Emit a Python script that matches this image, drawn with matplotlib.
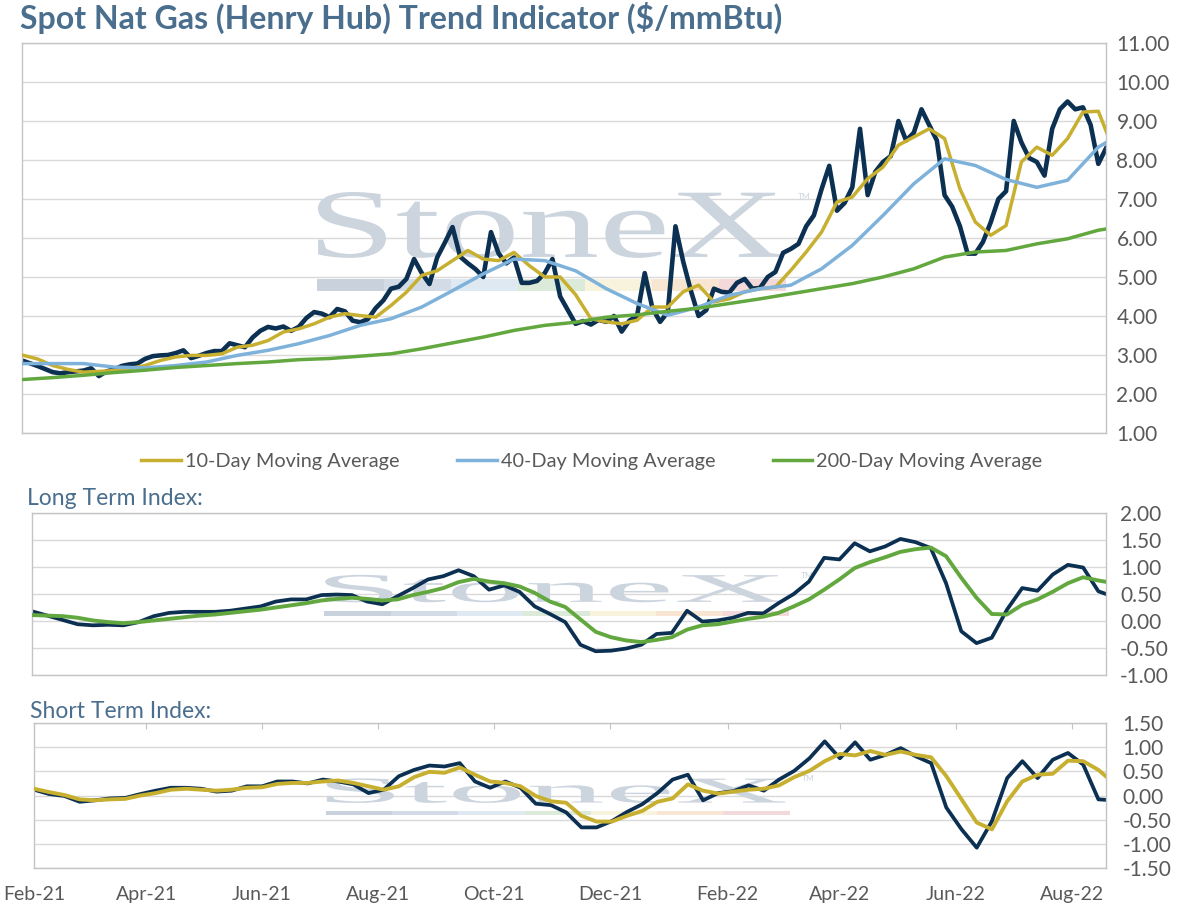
import matplotlib
matplotlib.use("Agg")
import matplotlib.pyplot as plt
import matplotlib.dates as mdates
import matplotlib.transforms as mtransforms
from matplotlib.textpath import TextPath
from matplotlib.patches import PathPatch, Rectangle
from matplotlib.font_manager import FontProperties
from matplotlib.ticker import FormatStrFormatter, MultipleLocator
import pandas as pd

plt.rcParams['font.family'] = ['Lato', 'DejaVu Sans']

start = "2021-02-01"
end = pd.Timestamp(start) + pd.Timedelta(days=564)

# spot price, one reading every 4 days
spot = [2.86, 2.79, 2.72, 2.64, 2.56, 2.53, 2.56, 2.58, 2.60, 2.66,
        2.46, 2.58, 2.63, 2.72, 2.76, 2.78, 2.90, 2.97, 2.99, 3.00,
        3.05, 3.12, 2.92, 2.98, 3.05, 3.10, 3.10, 3.30, 3.25, 3.20,
        3.45, 3.62, 3.72, 3.68, 3.73, 3.62, 3.72, 3.95, 4.10, 4.06,
        3.97, 4.18, 4.12, 3.88, 3.84, 3.92, 4.20, 4.40, 4.70, 4.75,
        4.95, 5.46, 5.10, 4.82, 5.50, 5.88, 6.28, 5.52, 5.35, 5.20,
        5.00, 6.15, 5.60, 5.35, 5.50, 4.85, 4.85, 4.90, 5.10, 5.46,
        4.50, 4.15, 3.80, 3.87, 3.78, 3.90, 3.85, 4.00, 3.60, 3.88,
        4.00, 5.10, 4.20, 3.85, 4.10, 6.30, 5.40, 4.65, 4.00, 4.15,
        4.70, 4.62, 4.60, 4.85, 4.95, 4.70, 4.72, 5.00, 5.13, 5.62,
        5.72, 5.85, 6.30, 6.58, 7.25, 7.85, 6.70, 6.90, 7.30, 8.80,
        7.10, 7.70, 7.95, 8.10, 9.00, 8.50, 8.70, 9.30, 8.90, 8.50,
        7.10, 6.80, 6.30, 5.60, 5.60, 5.90, 6.40, 7.00, 7.20, 9.00,
        8.45, 8.05, 7.95, 7.60, 8.80, 9.30, 9.50, 9.30, 9.35, 8.90,
        7.90, 8.30]
spot_dates = pd.date_range(start, periods=len(spot), freq="4D")

# 10-day moving average, every 8 days
ma10 = [3.00, 2.90, 2.73, 2.63, 2.56, 2.58, 2.60, 2.65, 2.73, 2.86,
        2.95, 2.99, 2.99, 3.03, 3.20, 3.25, 3.37, 3.59, 3.67, 3.80,
        3.97, 4.06, 4.01, 3.97, 4.27, 4.61, 5.04, 5.16, 5.42, 5.68,
        5.46, 5.42, 5.63, 5.29, 5.00, 5.00, 4.55, 3.93, 3.85, 3.80,
        3.89, 4.23, 4.23, 4.62, 4.79, 4.36, 4.44, 4.62, 4.70, 4.74,
        5.17, 5.64, 6.15, 6.92, 7.05, 7.52, 7.82, 8.38, 8.59, 8.80,
        8.55, 7.26, 6.41, 6.07, 6.32, 7.95, 8.33, 8.12, 8.55, 9.23,
        9.25, 8.25]
ma10_dates = pd.date_range(start, periods=len(ma10), freq="8D")

# 40-day and 200-day moving averages, every 16 days
ma40 = [2.78, 2.78, 2.78, 2.69, 2.67, 2.73, 2.82, 2.99, 3.12, 3.29,
        3.50, 3.76, 3.93, 4.23, 4.65, 5.08, 5.46, 5.42, 5.16, 4.70,
        4.32, 4.02, 4.23, 4.53, 4.70, 4.79, 5.21, 5.81, 6.58, 7.39,
        8.03, 7.86, 7.50, 7.30, 7.48, 8.33, 8.80]
ma200 = [2.37, 2.42, 2.48, 2.55, 2.61, 2.68, 2.73, 2.78, 2.82, 2.88,
         2.91, 2.97, 3.03, 3.16, 3.31, 3.46, 3.63, 3.76, 3.84, 3.97,
         4.03, 4.12, 4.20, 4.32, 4.44, 4.57, 4.70, 4.83, 5.00, 5.21,
         5.51, 5.64, 5.68, 5.85, 5.98, 6.20, 6.32]
slow_dates = pd.date_range(start, periods=len(ma40), freq="16D")

# long / short term index, every 8 days
lt_index = [0.18, 0.10, 0.02, -0.06, -0.08, -0.07, -0.08, -0.02, 0.09, 0.15,
            0.17, 0.17, 0.17, 0.19, 0.23, 0.27, 0.36, 0.40, 0.40, 0.48,
            0.49, 0.48, 0.36, 0.31, 0.46, 0.61, 0.77, 0.83, 0.94, 0.83,
            0.58, 0.66, 0.54, 0.27, 0.13, -0.02, -0.44, -0.56, -0.55, -0.51,
            -0.44, -0.24, -0.22, 0.19, -0.01, 0.01, 0.06, 0.15, 0.14, 0.33,
            0.50, 0.73, 1.17, 1.14, 1.44, 1.29, 1.38, 1.52, 1.46, 1.35,
            0.70, -0.19, -0.41, -0.31, 0.21, 0.61, 0.56, 0.86, 1.04, 0.99,
            0.55, 0.45]
lt_signal = [0.11, 0.10, 0.09, 0.06, 0.01, -0.02, -0.04, -0.02, 0.01, 0.04,
             0.07, 0.10, 0.12, 0.15, 0.18, 0.21, 0.25, 0.29, 0.33, 0.38,
             0.41, 0.43, 0.41, 0.38, 0.40, 0.48, 0.54, 0.61, 0.72, 0.78,
             0.73, 0.70, 0.64, 0.52, 0.36, 0.26, 0.03, -0.20, -0.30, -0.36,
             -0.39, -0.35, -0.30, -0.16, -0.08, -0.06, -0.01, 0.04, 0.08, 0.15,
             0.27, 0.40, 0.58, 0.77, 0.98, 1.09, 1.18, 1.28, 1.33, 1.36,
             1.20, 0.80, 0.43, 0.13, 0.12, 0.30, 0.40, 0.54, 0.70, 0.81,
             0.75, 0.70]
st_index = [0.12, 0.03, -0.01, -0.13, -0.10, -0.06, -0.05, 0.03, 0.10, 0.16,
            0.16, 0.14, 0.08, 0.10, 0.19, 0.19, 0.29, 0.29, 0.25, 0.33,
            0.29, 0.23, 0.05, 0.12, 0.40, 0.53, 0.62, 0.60, 0.67, 0.29,
            0.16, 0.29, 0.16, -0.17, -0.20, -0.35, -0.66, -0.66, -0.53, -0.34,
            -0.18, 0.05, 0.33, 0.43, -0.10, 0.05, 0.09, 0.21, 0.10, 0.33,
            0.51, 0.77, 1.12, 0.77, 1.10, 0.74, 0.84, 0.98, 0.81, 0.67,
            -0.25, -0.70, -1.08, -0.53, 0.36, 0.71, 0.36, 0.74, 0.88, 0.64,
            -0.08, -0.10]
st_signal = [0.14, 0.07, 0.01, -0.08, -0.10, -0.08, -0.07, 0.00, 0.05, 0.12,
             0.14, 0.12, 0.10, 0.12, 0.16, 0.17, 0.24, 0.26, 0.26, 0.29,
             0.31, 0.26, 0.19, 0.12, 0.19, 0.38, 0.49, 0.47, 0.58, 0.43,
             0.29, 0.26, 0.19, -0.01, -0.12, -0.15, -0.42, -0.54, -0.54, -0.42,
             -0.32, -0.13, -0.06, 0.23, 0.10, 0.04, 0.08, 0.12, 0.14, 0.21,
             0.38, 0.51, 0.71, 0.86, 0.83, 0.92, 0.84, 0.91, 0.84, 0.79,
             0.40, -0.08, -0.56, -0.70, -0.12, 0.29, 0.43, 0.45, 0.72, 0.71,
             0.53, 0.26]
index_dates = pd.date_range(start, periods=len(lt_index), freq="8D")

NAVY = "#0c3052"
GOLD = "#c7af30"
BLUE = "#7eb2db"
GREEN = "#62a83f"
TITLE_C = "#4a6e8d"
TXT = "#595959"
GRID = "#d9d9d9"
FRAME = "#c4c4c4"
WM = "#ccd4de"
bar_colors = ["#c9d2dc", "#d3dce6", "#dfe9f2", "#dcebd9", "#f7f3dc", "#f8e6d2", "#f3d9da"]


def add_watermark(ax):
    tp = TextPath((0, 0), "StoneX", prop=FontProperties(family="Liberation Serif"))
    bb = tp.get_extents()
    tr = (mtransforms.Affine2D().translate(-bb.x0, -bb.y0)
          .scale(0.428 / bb.width, 0.169 / bb.height)
          .translate(0.273, 0.449) + ax.transAxes)
    ax.add_patch(PathPatch(tp, transform=tr, facecolor=WM, edgecolor="none", zorder=1.5))
    w = (0.705 - 0.272) / len(bar_colors)
    for i, c in enumerate(bar_colors):
        ax.add_patch(Rectangle((0.272 + i * w, 0.365), w, 0.03, transform=ax.transAxes,
                               facecolor=c, edgecolor="none", zorder=1.5))
    ax.text(0.716, 0.60, "TM", transform=ax.transAxes, fontsize=6, color=WM, zorder=1.5)


def style(ax, lo, hi, step, pad):
    ax.set_xlim(pd.Timestamp(start), end)
    ax.set_ylim(lo, hi)
    ax.yaxis.set_major_locator(MultipleLocator(step))
    ax.yaxis.set_major_formatter(FormatStrFormatter("%.2f"))
    ax.yaxis.tick_right()
    ax.tick_params(axis="y", length=0, pad=pad, labelsize=15, labelcolor=TXT)
    ax.grid(axis="y", color=GRID, linewidth=1)
    ax.set_axisbelow(True)
    for s in ax.spines.values():
        s.set_color(FRAME)
        s.set_linewidth(1)
    add_watermark(ax)


W, H = 1179, 910
fig = plt.figure(figsize=(W / 100, H / 100), dpi=100)

ax1 = fig.add_axes([22 / W, 1 - 433 / H, 1084 / W, 390 / H])
ax2 = fig.add_axes([32 / W, 1 - 675 / H, 1074 / W, 162 / H])
ax3 = fig.add_axes([34 / W, 1 - 868 / H, 1072 / W, 145 / H])

style(ax1, 1, 11, 1, 7.5)
style(ax2, -1, 2, 0.5, 10)
style(ax3, -1.5, 1.5, 0.5, 12)

ax1.plot(spot_dates, spot, color=NAVY, lw=3.3, zorder=2, solid_joinstyle="round")
l10, = ax1.plot(ma10_dates, ma10, color=GOLD, lw=2.5, zorder=3)
l40, = ax1.plot(slow_dates, ma40, color=BLUE, lw=2.5, zorder=4)
l200, = ax1.plot(slow_dates, ma200, color=GREEN, lw=2.5, zorder=5)

ax2.plot(index_dates, lt_index, color=NAVY, lw=2.7, zorder=2)
ax2.plot(index_dates, lt_signal, color=GREEN, lw=2.8, zorder=3)

ax3.plot(index_dates, st_index, color=NAVY, lw=2.7, zorder=2)
ax3.plot(index_dates, st_signal, color=GOLD, lw=2.8, zorder=3)

for ax in (ax1, ax2):
    ax.tick_params(axis="x", bottom=False, labelbottom=False)

ax3.xaxis.set_major_locator(mdates.MonthLocator(bymonth=[2, 4, 6, 8, 10, 12]))
ax3.xaxis.set_major_formatter(mdates.DateFormatter("%b-%y"))
ax3.tick_params(axis="x", bottom=False, top=True, direction="in", length=4,
                color=FRAME, labelbottom=True, labeltop=False, labelsize=14,
                labelcolor=TXT, pad=13)

fig.legend([l10, l40, l200],
           ["10-Day Moving Average", "40-Day Moving Average", "200-Day Moving Average"],
           loc="center", bbox_to_anchor=(0.502, 1 - 461 / H), ncol=3, frameon=False,
           fontsize=14.3, handlelength=2.0, handletextpad=0.2, columnspacing=2.9,
           labelcolor=TXT)

fig.text(20 / W, 1 - 18 / H, "Spot Nat Gas (Henry Hub) Trend Indicator ($/mmBtu)",
         fontsize=23, fontweight="bold", color=TITLE_C, ha="left", va="center")
fig.text(27 / W, 1 - 498 / H, "Long Term Index:", fontsize=16.5, color=TITLE_C,
         ha="left", va="center")
fig.text(30 / W, 1 - 711 / H, "Short Term Index:", fontsize=16.5, color=TITLE_C,
         ha="left", va="center")

fig.savefig("out.png", dpi=100)
